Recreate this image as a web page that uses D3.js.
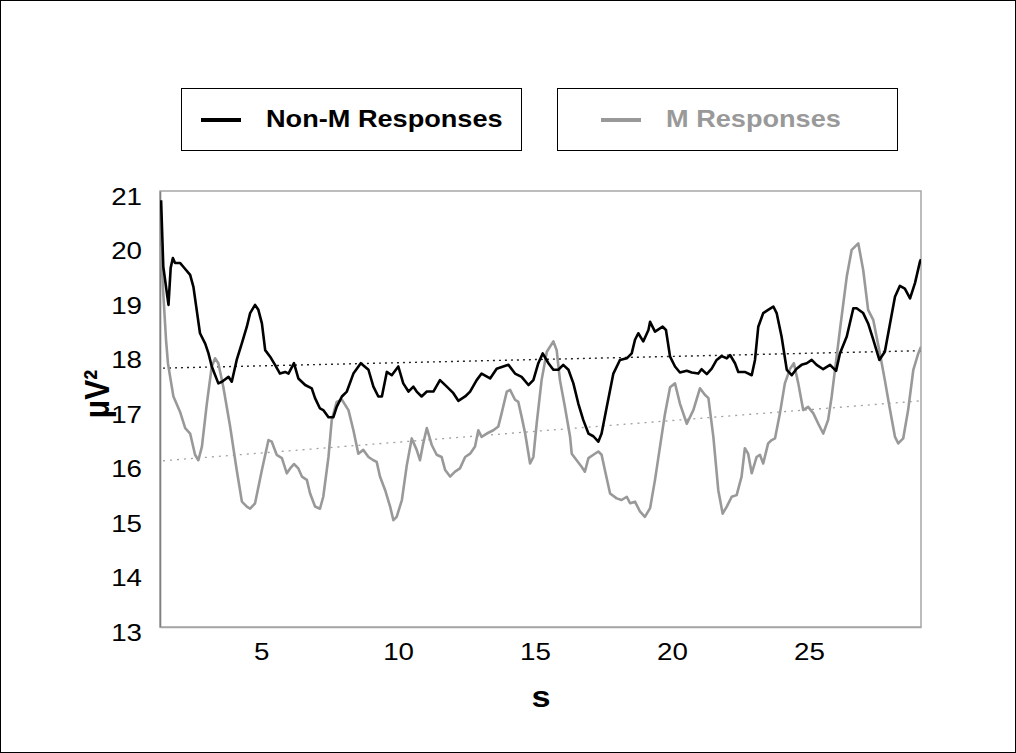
<!DOCTYPE html>
<html>
<head>
<meta charset="utf-8">
<script src="https://cdn.jsdelivr.net/npm/d3@7"></script>
<style>
  html, body { margin: 0; padding: 0; background: #fff; }
  svg { display: block; }
</style>
</head>
<body>
<svg id="chart" width="1016" height="753"></svg>
<script>
// ---------- DATA ----------
const seriesNames = ["Non-M Responses", "M Responses"];
const xTickValues = [5, 10, 15, 20, 25];
const yTickValues = [13, 14, 15, 16, 17, 18, 19, 20, 21];
const xDomain = [1.31, 29.09];
const yDomain = [13, 21];

// Non-M responses: [time (s), power (µV²)]
const nonM = [
  [1.35,20.83],[1.43,19.61],[1.62,18.91],[1.70,19.59],[1.78,19.77],[1.86,19.68],[2.04,19.68],[2.16,19.61],
  [2.41,19.46],[2.53,19.24],[2.77,18.39],[2.96,18.20],[3.08,18.02],[3.20,17.78],[3.44,17.47],[3.57,17.50],
  [3.81,17.59],[3.93,17.50],[4.11,17.90],[4.30,18.21],[4.48,18.51],[4.60,18.76],[4.78,18.91],[4.90,18.82],
  [5.03,18.57],[5.15,18.08],[5.33,17.96],[5.51,17.81],[5.69,17.65],[5.88,17.68],[6.00,17.65],[6.20,17.84],
  [6.36,17.56],[6.61,17.44],[6.85,17.38],[6.97,17.20],[7.15,17.01],[7.27,16.98],[7.46,16.85],[7.64,16.85],
  [7.76,17.04],[7.95,17.23],[8.13,17.32],[8.37,17.65],[8.64,17.84],[8.92,17.72],[9.10,17.41],[9.28,17.23],
  [9.41,17.23],[9.59,17.68],[9.77,17.62],[10.01,17.78],[10.19,17.47],[10.38,17.32],[10.56,17.41],[10.68,17.32],
  [10.86,17.23],[11.05,17.32],[11.29,17.32],[11.53,17.53],[11.78,17.41],[12.02,17.29],[12.20,17.15],[12.45,17.23],
  [12.63,17.32],[12.87,17.53],[13.05,17.65],[13.36,17.56],[13.60,17.74],[13.84,17.78],[14.03,17.81],[14.27,17.65],
  [14.51,17.59],[14.76,17.44],[14.94,17.53],[15.12,17.84],[15.28,18.02],[15.49,17.84],[15.67,17.72],[15.85,17.72],
  [16.03,17.81],[16.22,17.72],[16.40,17.47],[16.58,17.10],[16.76,16.80],[16.95,16.55],[17.13,16.50],[17.31,16.40],
  [17.43,16.55],[17.62,17.04],[17.86,17.65],[18.10,17.90],[18.35,17.93],[18.53,18.02],[18.65,18.27],[18.77,18.39],
  [18.95,18.24],[19.14,18.45],[19.20,18.60],[19.38,18.42],[19.66,18.51],[19.78,18.45],[19.93,17.96],[20.11,17.78],
  [20.29,17.67],[20.54,17.70],[20.72,17.67],[20.96,17.65],[21.08,17.73],[21.27,17.64],[21.45,17.74],[21.63,17.90],
  [21.81,17.97],[22.00,17.93],[22.12,17.99],[22.30,17.84],[22.42,17.68],[22.66,17.68],[22.91,17.62],[23.03,17.90],
  [23.15,18.51],[23.33,18.76],[23.51,18.82],[23.70,18.88],[23.82,18.76],[24.00,18.33],[24.19,17.72],[24.37,17.62],
  [24.55,17.74],[24.73,17.81],[24.92,17.84],[25.10,17.90],[25.28,17.81],[25.52,17.73],[25.77,17.81],[25.99,17.70],
  [26.13,18.02],[26.38,18.33],[26.62,18.85],[26.74,18.85],[26.98,18.76],[27.16,18.57],[27.35,18.27],[27.57,17.90],
  [27.77,18.05],[27.96,18.57],[28.14,19.06],[28.32,19.26],[28.50,19.21],[28.69,19.03],[28.87,19.31],[29.05,19.70],
  [29.09,19.75]
];

// M responses: [time (s), power (µV²)]
const mResp = [
  [1.34,19.98],[1.43,19.12],[1.53,18.27],[1.60,17.84],[1.70,17.53],[1.80,17.23],[2.04,16.95],[2.23,16.65],
  [2.41,16.55],[2.59,16.16],[2.71,16.06],[2.84,16.31],[3.02,17.10],[3.20,17.78],[3.32,17.93],[3.44,17.84],
  [3.62,17.41],[3.87,16.68],[4.11,15.88],[4.30,15.30],[4.48,15.21],[4.60,15.17],[4.78,15.27],[5.03,15.88],
  [5.27,16.43],[5.39,16.40],[5.57,16.16],[5.76,16.10],[5.94,15.82],[6.06,15.91],[6.20,15.99],[6.36,15.91],
  [6.49,15.76],[6.67,15.70],[6.79,15.45],[6.97,15.21],[7.15,15.17],[7.27,15.39],[7.46,16.12],[7.58,16.80],
  [7.76,17.13],[7.95,17.17],[8.19,16.98],[8.37,16.61],[8.55,16.18],[8.73,16.25],[8.92,16.12],[9.10,16.06],
  [9.22,16.03],[9.34,15.76],[9.53,15.51],[9.71,15.21],[9.83,14.96],[9.95,15.02],[10.14,15.33],[10.32,15.97],
  [10.50,16.46],[10.68,16.25],[10.80,16.06],[10.92,16.37],[11.05,16.65],[11.23,16.34],[11.41,16.16],[11.59,16.12],
  [11.72,15.88],[11.90,15.76],[12.08,15.85],[12.26,15.91],[12.45,16.12],[12.63,16.18],[12.81,16.31],[12.93,16.61],
  [13.05,16.49],[13.24,16.55],[13.48,16.61],[13.66,16.68],[13.78,16.92],[13.97,17.32],[14.09,17.35],[14.27,17.17],
  [14.39,17.13],[14.51,16.86],[14.64,16.55],[14.82,16.00],[14.94,16.12],[15.06,16.73],[15.24,17.53],[15.43,18.05],
  [15.67,18.24],[15.79,18.08],[15.91,17.53],[16.09,17.04],[16.28,16.49],[16.34,16.18],[16.52,16.06],[16.70,15.94],
  [16.82,15.85],[16.95,16.10],[17.13,16.16],[17.31,16.22],[17.43,16.16],[17.55,15.88],[17.74,15.45],[17.98,15.36],
  [18.16,15.33],[18.35,15.39],[18.47,15.27],[18.65,15.30],[18.83,15.12],[19.01,15.02],[19.20,15.18],[19.38,15.70],
  [19.56,16.30],[19.74,16.90],[19.93,17.40],[20.11,17.47],[20.29,17.10],[20.54,16.73],[20.78,16.98],[21.02,17.38],
  [21.20,17.26],[21.33,17.20],[21.51,16.49],[21.69,15.51],[21.85,15.08],[22.00,15.21],[22.18,15.39],[22.36,15.42],
  [22.54,15.76],[22.66,16.28],[22.78,16.18],[22.91,15.82],[23.09,16.12],[23.21,16.16],[23.33,16.00],[23.51,16.37],
  [23.64,16.43],[23.76,16.46],[23.94,16.92],[24.12,17.47],[24.31,17.74],[24.45,17.84],[24.61,17.47],[24.79,16.98],
  [24.97,17.04],[25.16,16.92],[25.34,16.73],[25.52,16.55],[25.70,16.80],[25.83,17.23],[26.01,17.96],[26.13,18.45],
  [26.38,19.43],[26.56,19.92],[26.80,20.04],[26.98,19.55],[27.16,18.82],[27.35,18.63],[27.59,18.02],[27.77,17.53],
  [27.96,16.98],[28.14,16.49],[28.26,16.37],[28.44,16.46],[28.62,16.98],[28.81,17.72],[28.99,18.02],[29.09,18.14]
];

// Linear trend lines: [start time, start value], [end time, end value]
const nonMTrend = [[1.42, 17.75], [29.09, 18.07]];
const mTrend = [[1.42, 16.05], [29.09, 17.15]];

// ---------- LAYOUT ----------
const W = 1016, H = 753;
const plot = { left: 160, top: 191, right: 921, bottom: 627 };
const SX = 1.18; // horizontal stretch of the original text
const FONT = "'Liberation Sans', Arial, Helvetica, sans-serif";

const svg = d3.select("#chart");

// outer frame
svg.append("rect").attr("x", 0.5).attr("y", 0.5).attr("width", W - 1).attr("height", H - 1)
  .attr("fill", "#fff").attr("stroke", "#000").attr("stroke-width", 1);

const x = d3.scaleLinear().domain(xDomain).range([plot.left, plot.right]);
const y = d3.scaleLinear().domain(yDomain).range([plot.bottom, plot.top]);

function stretchedText(parent, px, py, str, opt) {
  const g = parent.append("g").attr("transform", `translate(${px},${py}) scale(${opt.sx || SX},1)`);
  g.append("text")
    .attr("text-anchor", opt.anchor || "start")
    .attr("dominant-baseline", "central")
    .attr("font-family", FONT)
    .attr("font-size", opt.size)
    .attr("font-weight", opt.weight || "normal")
    .attr("fill", opt.fill || "#000")
    .text(str);
  return g;
}

// plot frame
svg.append("rect")
  .attr("x", plot.left).attr("y", plot.top)
  .attr("width", plot.right - plot.left).attr("height", plot.bottom - plot.top)
  .attr("fill", "#fff").attr("stroke", "#a6a6a6").attr("stroke-width", 1.5);

// axes (no tick marks)
const yAxis = d3.axisLeft(y).tickValues(yTickValues).tickSize(0).tickFormat(d3.format("d"));
const gy = svg.append("g").attr("transform", `translate(${plot.left},0)`).call(yAxis);
gy.select(".domain").attr("stroke", "#7f7f7f").attr("stroke-width", 1.6);
gy.selectAll(".tick text").remove();
gy.selectAll(".tick").each(function(d) {
  stretchedText(d3.select(this), -18, 5, d3.format("d")(d), { anchor: "end", size: 23.5 });
});

const xAxis = d3.axisBottom(x).tickValues(xTickValues).tickSize(0).tickFormat(d3.format("d"));
const gx = svg.append("g").attr("transform", `translate(0,${plot.bottom})`).call(xAxis);
gx.select(".domain").attr("stroke", "#a6a6a6").attr("stroke-width", 1.5);
gx.selectAll(".tick text").remove();
gx.selectAll(".tick").each(function(d) {
  stretchedText(d3.select(this), 0, 25, d3.format("d")(d), { anchor: "middle", size: 23.5 });
});

// clip
svg.append("clipPath").attr("id", "clip").append("rect")
  .attr("x", plot.left).attr("y", plot.top)
  .attr("width", plot.right - plot.left).attr("height", plot.bottom - plot.top);

const gPlot = svg.append("g").attr("clip-path", "url(#clip)");
const line = d3.line().x(d => x(d[0])).y(d => y(d[1]));

// trend lines
gPlot.append("path").datum(mTrend).attr("d", line)
  .attr("fill", "none").attr("stroke", "#a0a0a0").attr("stroke-width", 1.3)
  .attr("stroke-dasharray", "2,5");
gPlot.append("path").datum(nonMTrend).attr("d", line)
  .attr("fill", "none").attr("stroke", "#222").attr("stroke-width", 1.4)
  .attr("stroke-dasharray", "2,4");

// series
gPlot.append("path").datum(mResp).attr("d", line)
  .attr("fill", "none").attr("stroke", "#999").attr("stroke-width", 2.6)
  .attr("stroke-linejoin", "round");
gPlot.append("path").datum(nonM).attr("d", line)
  .attr("fill", "none").attr("stroke", "#000").attr("stroke-width", 2.6)
  .attr("stroke-linejoin", "round");

// axis titles
stretchedText(svg, 541, 697, "s", { anchor: "middle", size: 29, weight: "bold" });
{
  const g = svg.append("g").attr("transform", `translate(97,394) rotate(-90)`);
  g.append("text").attr("text-anchor", "middle").attr("dominant-baseline", "central")
    .attr("font-family", FONT).attr("font-size", 30).attr("font-weight", "bold").attr("fill", "#000")
    .attr("transform", `scale(1,${SX})`)
    .text("\u03bcV\u00b2");
}

// legend
const legendItems = [
  { name: seriesNames[0], color: "#000", textColor: "#000", x0: 181, x1: 521, lx: 201, tx: 266 },
  { name: seriesNames[1], color: "#999", textColor: "#999", x0: 557, x1: 897, lx: 601, tx: 666 }
];
const legendTop = 88, legendBottom = 150;
legendItems.forEach(it => {
  svg.append("rect").attr("x", it.x0 + 0.5).attr("y", legendTop + 0.5)
    .attr("width", it.x1 - it.x0).attr("height", legendBottom - legendTop)
    .attr("fill", "#fff").attr("stroke", "#000").attr("stroke-width", 1);
  const cy = (legendTop + legendBottom) / 2;
  svg.append("line").attr("x1", it.lx).attr("x2", it.lx + 40)
    .attr("y1", cy + 1).attr("y2", cy + 1)
    .attr("stroke", it.color).attr("stroke-width", 4);
  stretchedText(svg, it.tx, cy, it.name, { anchor: "start", size: 23, weight: "bold", fill: it.textColor });
});
</script>
</body>
</html>
